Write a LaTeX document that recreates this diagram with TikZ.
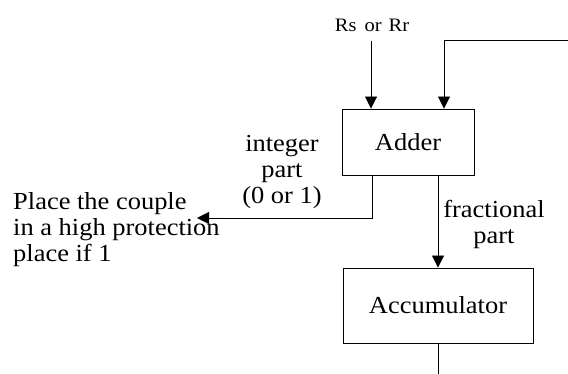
\documentclass[tikz,border=0pt]{standalone}
\usepackage{fontspec}
\setmainfont{Liberation Serif}[FakeStretch=1.08]
\usetikzlibrary{arrows.meta,calc}
\begin{document}
\begin{tikzpicture}[x=1pt,y=-1pt,
  every node/.style={inner sep=0pt,font=\fontsize{24.5}{26}\selectfont},
  blk/.style={draw,line width=0.9pt,inner sep=0pt},
  arr/.style={line width=0.9pt,-{Triangle[length=12pt,width=12pt]}},
  ln/.style={line width=0.9pt}]
\useasboundingbox (0,0) rectangle (568,374);
\node[blk,minimum width=132pt,minimum height=66pt] (adder) at (408,142) {Adder};
\node[blk,minimum width=190pt,minimum height=75pt] (acc) at (438,305.5) {Accumulator};
\node[anchor=base,font=\fontsize{19}{22}\selectfont] (rslab) at (372,32) {Rs\hspace{8pt}or\hspace{7pt}Rr};
\node[align=center] (intlab) at (282,171.8) {integer\\part\\(0 or 1)};
\node[align=center] (fraclab) at (494,224.3) {fractional\\part};
\node[align=left,anchor=west] (place) at (13,229.3) {Place the couple\\in a high protection\\place if 1};
\coordinate (rs) at (371,41);
\coordinate (fb) at (568,40);
\coordinate (fbx) at (444,40);
\coordinate (intx) at (372,218);
\coordinate (ptip) at (197,218);
\coordinate (bot) at (438,374);
\draw[arr] (rs) -- (rs |- adder.north);
\draw[arr] (fb) -- (fbx) -- (fbx |- adder.north);
\draw[arr] (intx |- adder.south) -- (intx) -- (ptip);
\draw[arr] (acc.north |- adder.south) -- (acc.north);
\draw[ln] (acc.south) -- (bot);
\end{tikzpicture}
\end{document}
